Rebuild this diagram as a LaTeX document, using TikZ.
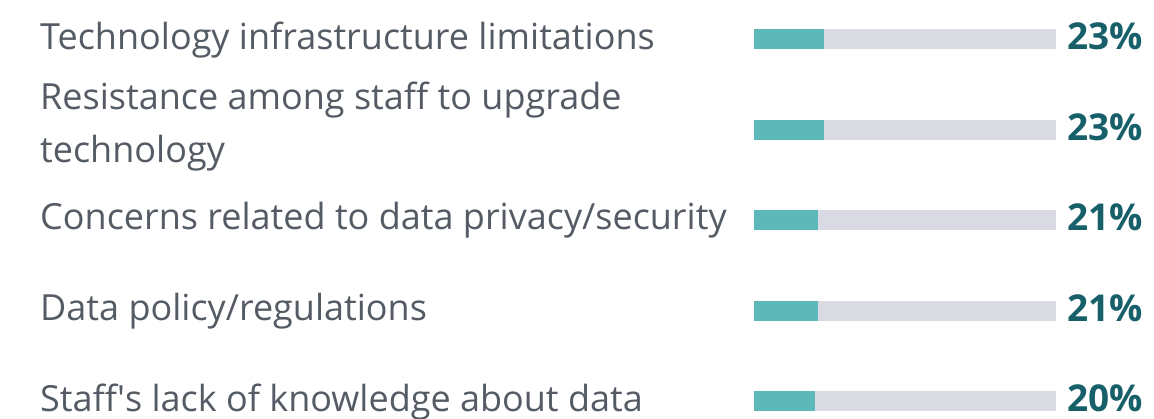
\documentclass[tikz,border=0pt]{standalone}
\usepackage{fontspec}
\setmainfont{Open Sans}
\definecolor{labelgray}{HTML}{555B65}
\definecolor{pctteal}{HTML}{17606A}
\definecolor{barteal}{HTML}{5CB8B9}
\definecolor{bargray}{HTML}{DADAE3}
\begin{document}
\begin{tikzpicture}[x=1pt,y=-1pt,
  lbl/.style={anchor=base west,inner sep=0pt,text=labelgray,font=\fontsize{36}{53}\selectfont,align=left},
  pct/.style={anchor=base west,inner sep=0pt,text=pctteal,font=\fontsize{37}{44}\selectfont\bfseries},
  track/.style={fill=bargray,draw=none},
  val/.style={fill=barteal,draw=none}]
\useasboundingbox (0,0) rectangle (1154,419);
% row 1
\node[lbl] (l1) at (40,50) {Technology infrastructure limitations};
\fill[track] (754,29) rectangle (1056,49);
\fill[val] (754,29) rectangle (824,49);
\node[pct] (p1) at (1067,50) {23\%};
% row 2
\node[lbl] (l2a) at (40,110) {Resistance among staff to upgrade};
\node[lbl] (l2b) at (40,163) {technology};
\fill[track] (754,120) rectangle (1056,140);
\fill[val] (754,120) rectangle (824,140);
\node[pct] (p2) at (1067,141) {23\%};
% row 3
\node[lbl] (l3) at (40,230) {Concerns related to data privacy/security};
\fill[track] (754,210) rectangle (1056,230);
\fill[val] (754,210) rectangle (818,230);
\node[pct] (p3) at (1067,231) {21\%};
% row 4
\node[lbl] (l4) at (40,321) {Data policy/regulations};
\fill[track] (754,301) rectangle (1056,321);
\fill[val] (754,301) rectangle (818,321);
\node[pct] (p4) at (1067,322) {21\%};
% row 5
\node[lbl] (l5) at (40,411) {Staff\textquotesingle s lack of knowledge about data};
\fill[track] (754,391) rectangle (1056,411);
\fill[val] (754,391) rectangle (815,411);
\node[pct] (p5) at (1067,412) {20\%};
\end{tikzpicture}
\end{document}
